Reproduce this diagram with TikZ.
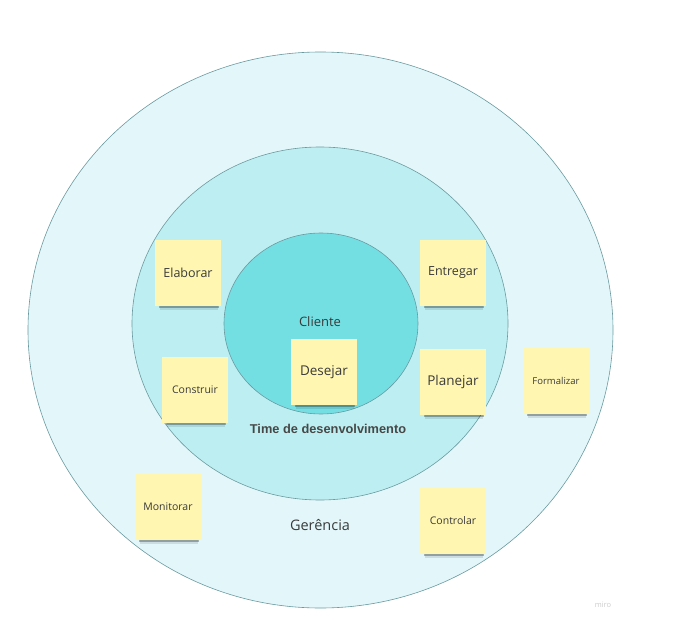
\documentclass[tikz,border=0pt]{standalone}
\usepackage{fontspec}
\setmainfont{Open Sans}
\newfontfamily\arialfont{Liberation Sans}
\usetikzlibrary{shapes.geometric,shadows}
\definecolor{outerc}{HTML}{E3F7FA}
\definecolor{midc}{HTML}{BDEFF2}
\definecolor{innerc}{HTML}{74DFE3}
\definecolor{rimc}{HTML}{6A9AA0}
\definecolor{notec}{HTML}{FFF6B1}
\definecolor{txtc}{HTML}{3A3A3A}
\tikzset{
  ring/.style={ellipse, draw=rimc, line width=0.6pt, inner sep=0pt},
  sticky/.style={rectangle, fill=notec, minimum width=66pt, minimum height=66pt, inner sep=0pt, text=txtc,
    general shadow={fill=black, opacity=0.10, shadow yshift=-9pt, shadow xshift=1.5pt, shadow scale=0.88},
    general shadow={fill=black, opacity=0.28, shadow yshift=-6pt, shadow xshift=1.5pt, shadow scale=0.91}},
  lbl/.style={text=txtc, inner sep=0pt}
}
\begin{document}
\begin{tikzpicture}[x=1pt,y=-1pt]
\useasboundingbox (0,0) rectangle (678,634);
\fill[white] (0,0) rectangle (678,634);
\node[ring, fill=outerc, minimum width=585pt, minimum height=556pt] (outer) at (320.5,330) {};
\node[ring, fill=midc, minimum width=376pt, minimum height=353pt] (mid) at (320,323.5) {};
\node[ring, fill=innerc, minimum width=194pt, minimum height=181pt] (inner) at (321,323.5) {};
\node[lbl, font=\fontsize{13}{15}\selectfont] (cliente) at (320,322) {Cliente};
\node[lbl, font=\arialfont\fontsize{12.8}{15}\selectfont\bfseries, text=black!72] (time) at (328,429) {Time de desenvolvimento};
\node[lbl, font=\fontsize{14.5}{17}\selectfont] (gerencia) at (320,525) {Gerência};
\node[sticky, font=\fontsize{12.5}{15}\selectfont] (elaborar) at (188,273) {Elaborar};
\node[sticky, font=\fontsize{12.5}{15}\selectfont] (entregar) at (453,273) {Entregar};
\node[sticky, font=\fontsize{13.5}{16}\selectfont] (desejar) at (324,372) {Desejar};
\node[sticky, font=\fontsize{10.5}{13}\selectfont] (construir) at (195,390) {Construir};
\node[sticky, font=\fontsize{13.5}{16}\selectfont] (planejar) at (453,382) {Planejar};
\node[sticky, font=\fontsize{9.5}{12}\selectfont] (formalizar) at (556,381) {Formalizar};
\node[sticky, font=\fontsize{10.5}{13}\selectfont] (monitorar) at (168,507) {Monitorar};
\node[sticky, font=\fontsize{10.5}{13}\selectfont] (controlar) at (453,521) {Controlar};
\node[inner sep=0pt, text=black!20, font=\fontsize{7.5}{9}\selectfont] (miro) at (603,605) {miro};
\end{tikzpicture}
\end{document}
